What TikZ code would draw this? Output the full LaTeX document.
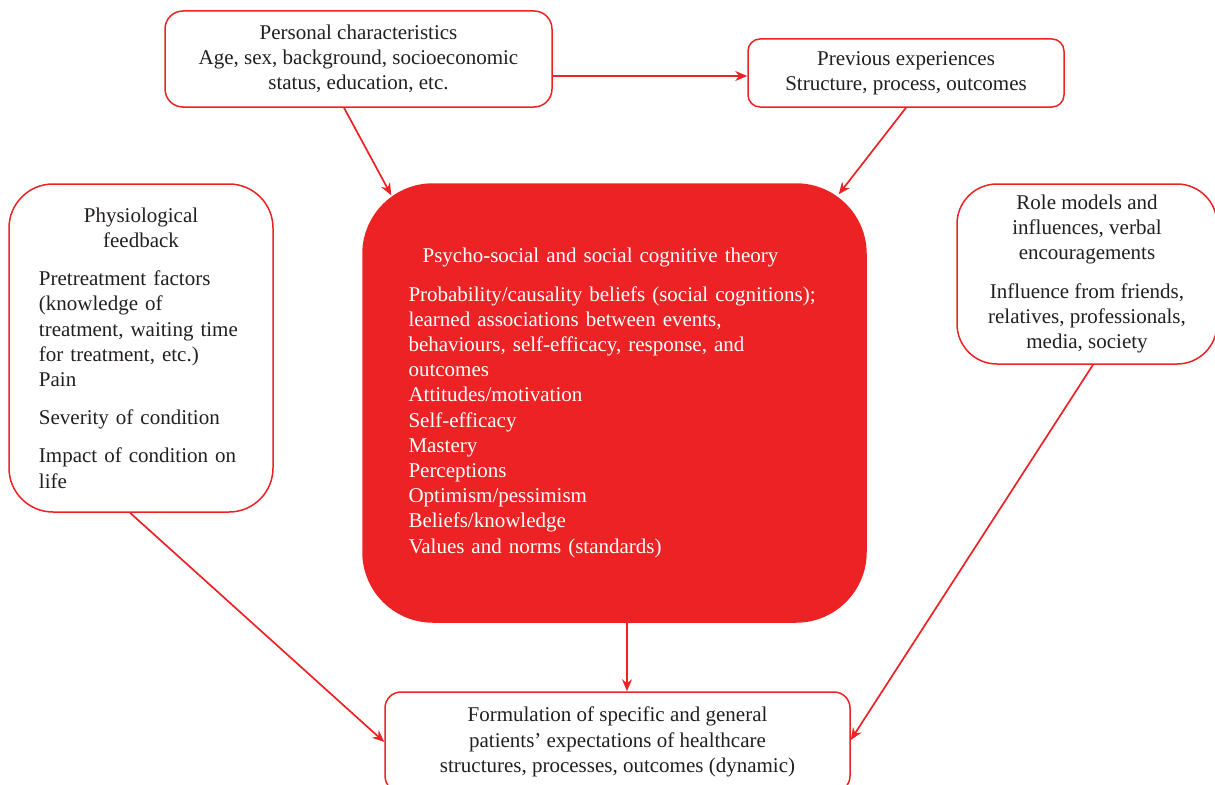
\documentclass[tikz,border=0pt]{standalone}
\usepackage{fontspec}
\setmainfont{Liberation Serif}
\usetikzlibrary{arrows.meta,calc}
\definecolor{boxred}{RGB}{237,34,36}
\definecolor{textgray}{RGB}{35,31,32}

\begin{document}
\begin{tikzpicture}[x=0.5pt,y=0.5pt]
  \tikzstyle{BoxStyle}=[draw=boxred,line width=0.75pt,fill=white,text=textgray,
    font=\fontsize{10.5}{12.6}\selectfont,inner sep=0pt]
  \tikzstyle{EdgeStyle}=[draw=boxred,line width=0.85pt,-{Stealth[length=6pt,width=5pt]}]
  \useasboundingbox (0,0) rectangle (1215,784);
  \clip (0,0) rectangle (1215,784);

  \node[BoxStyle,rounded corners=9pt,minimum width=193.5pt,minimum height=48pt,align=center]
    (personal) at (358.5,725) {Personal characteristics\\Age, sex, background, socioeconomic\\status, education, etc.};
  \node[BoxStyle,rounded corners=6pt,minimum width=158pt,minimum height=34pt,align=center]
    (previous) at (906,711) {Previous experiences\\Structure, process, outcomes};
  \node[BoxStyle,rounded corners=22pt,minimum width=132pt,minimum height=164pt,text width=102pt,align=left]
    (physio) at (141,436) {{\centering Physiological\\feedback\par}\vspace{6.5pt}
      Pretreatment factors\\(knowledge of\\treatment, waiting time\\for treatment, etc.)\\Pain\par\vspace{6.5pt}
      Severity of condition\par\vspace{6.5pt}
      Impact of condition on\\life};
  \node[BoxStyle,fill=boxred,text=white,rounded corners=35pt,minimum width=251.5pt,minimum height=219pt,
    text width=206pt,align=left]
    (theory) at (614.5,381) {{\centering\hspace*{-14pt}Psycho-social and social cognitive theory\par}\vspace{6.5pt}
      Probability/causality beliefs (social cognitions);\\learned associations between events,\\
      behaviours, self-efficacy, response, and\\outcomes\\Attitudes/motivation\\Self-efficacy\\
      Mastery\\Perceptions\\Optimism/pessimism\\Beliefs/knowledge\\Values and norms (standards)};
  \node[BoxStyle,rounded corners=20pt,minimum width=130pt,minimum height=90pt,align=center]
    (role) at (1087,510) {Role models and\\influences, verbal\\encouragements\\[6.5pt]
      Influence from friends,\\relatives, professionals,\\media, society};
  \node[BoxStyle,rounded corners=8pt,minimum width=232.5pt,minimum height=50pt,align=center]
    (outcome) at (617.5,42) {Formulation of specific and general\\patients' expectations of healthcare\\
      structures, processes, outcomes (dynamic)};

  \draw[EdgeStyle] ($(personal.south)+(-14.5,0)$) -- ($(theory.north west)+(29,-12)$);
  \draw[EdgeStyle] ($(personal.east)+(0,-17)$) -- ($(previous.west)+(0,-3)$);
  \draw[EdgeStyle] (previous.south) -- ($(theory.north east)+(-28,-11)$);
  \draw[EdgeStyle] ($(theory.south)+(12.5,0)$) -- ($(outcome.north)+(9.5,0)$);
  \draw[EdgeStyle] ($(physio.south)+(-11,0)$) -- (outcome.west);
  \draw[EdgeStyle] ($(role.south)+(6,0)$) -- ($(outcome.east)+(0,2)$);
\end{tikzpicture}
\end{document}
